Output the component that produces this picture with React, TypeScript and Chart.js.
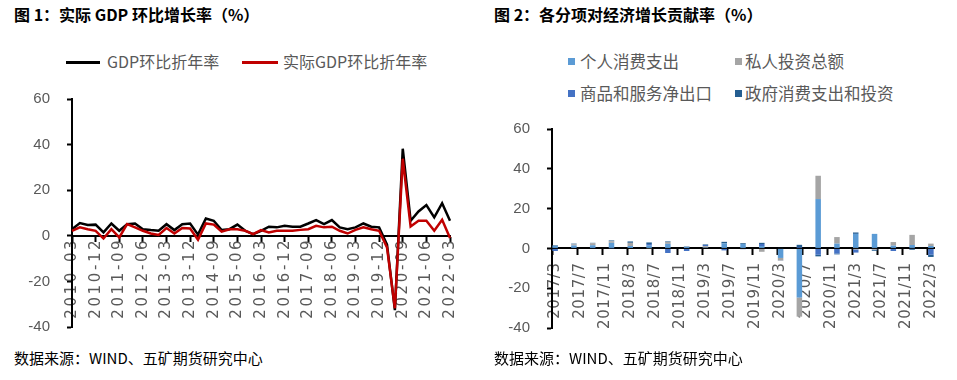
import React, { useEffect, useRef } from 'react';
import { Chart, registerables } from 'chart.js';

Chart.register(...registerables);

// ---------- Chart 1 data ----------
const quarters1 = [
  '2010-03', '2010-06', '2010-09', '2010-12',
  '2011-03', '2011-06', '2011-09', '2011-12',
  '2012-03', '2012-06', '2012-09', '2012-12',
  '2013-03', '2013-06', '2013-09', '2013-12',
  '2014-03', '2014-06', '2014-09', '2014-12',
  '2015-03', '2015-06', '2015-09', '2015-12',
  '2016-03', '2016-06', '2016-09', '2016-12',
  '2017-03', '2017-06', '2017-09', '2017-12',
  '2018-03', '2018-06', '2018-09', '2018-12',
  '2019-03', '2019-06', '2019-09', '2019-12',
  '2020-03', '2020-06', '2020-09', '2020-12',
  '2021-03', '2021-06', '2021-09', '2021-12',
  '2022-03',
];
const gdpNominal = [
  2.9, 5.6, 4.7, 4.9, 1.5, 5.4, 2.2, 5.1, 5.4, 2.9,
  2.5, 2.2, 5.1, 2.5, 5.1, 5.4, 0.5, 7.6, 6.6, 2.5,
  2.9, 4.9, 2.2, 0.7, 2.2, 4.0, 3.7, 4.4, 4.0, 4.0,
  5.4, 6.9, 5.1, 6.9, 3.7, 2.9, 3.7, 5.4, 4.0, 3.7,
  -3.9, -32.6, 38.2, 6.6, 10.7, 13.5, 8.1, 14.3, 6.6,
];
const gdpReal = [
  2.2, 3.7, 2.9, 2.2, -1.2, 2.9, -0.7, 5.1, 3.7, 2.2,
  1.0, 0.4, 3.4, 1.0, 3.4, 3.2, -1.7, 5.4, 4.9, 1.8,
  2.9, 2.9, 2.2, 0.7, 2.5, 1.5, 2.2, 2.2, 2.2, 2.6,
  2.9, 4.4, 3.7, 4.0, 2.2, 1.0, 2.6, 3.7, 2.9, 2.2,
  -5.1, -31.8, 33.8, 4.1, 6.6, 6.6, 2.2, 7.0, -1.0,
];
const series1Names = ['GDP环比折年率', '实际GDP环比折年率'];
const series1Colors = ['#000000', '#C00000'];

// ---------- Chart 2 data ----------
const quarters2 = [
  '2017/3', '2017/6', '2017/9', '2017/12',
  '2018/3', '2018/6', '2018/9', '2018/12',
  '2019/3', '2019/6', '2019/9', '2019/12',
  '2020/3', '2020/6', '2020/9', '2020/12',
  '2021/3', '2021/6', '2021/9', '2021/12',
  '2022/3',
];
const pce = [1.3, 1.5, 1.6, 2.8, 1.2, 1.4, 2.3, 0.9, 0.4, 2.5, 2.2, 1.2, -4.8, -24.7, 24.8, 2.4, 7.3, 7.3, 1.4, 1.7, 1.2];
const investment = [0.1, 0.6, 1.0, 0.8, 1.6, -0.1, 0.9, 0.3, 0.7, -0.3, -0.3, -1.7, -1.3, -9.6, 11.7, 3.3, -0.5, -0.6, 1.8, 5.1, 1.2];
const netExports = [-1.3, 0.1, -0.2, -0.1, 0.0, 0.8, -2.3, -1.3, 0.6, -0.7, -0.1, 1.0, -0.1, 0.6, -3.2, -2.6, -1.6, -0.2, -1.3, -0.2, -3.2];
const government = [0.3, 0.2, 0.2, 0.4, 0.7, 0.8, 0.3, 0.0, 0.3, 0.8, 0.4, 0.6, 0.2, 1.2, -0.8, -0.4, 0.7, -0.4, 0.0, -0.5, -1.1];
const series2Names = ['个人消费支出', '私人投资总额', '商品和服务净出口', '政府消费支出和投资'];
const series2Colors = ['#5B9BD5', '#A5A5A5', '#4472C4', '#255E91'];

const yMin = -40;
const yMax = 60;
const yStep = 20;

const title1 = '图 1：实际 GDP 环比增长率（%）';
const title2 = '图 2：各分项对经济增长贡献率（%）';
const sourceText = '数据来源：WIND、五矿期货研究中心';

// ---------- helpers ----------
const FONT_CJK = '"Noto Sans CJK SC", "Noto Sans", sans-serif';
const FONT_AXIS = '"Liberation Sans", Arial, sans-serif';
const FONT_XLAB = '"DejaVu Sans", "Liberation Sans", sans-serif';
const GRAY = '#595959';

// monthly axis for chart 2 (quarter-end bars on a month-based axis)
const parseYM = (s: string) => s.split('/').map(Number);
const axisMonths: string[] = (() => {
  const [y0, m0] = parseYM(quarters2[0]);
  const [y1, m1] = parseYM(quarters2[quarters2.length - 1]);
  const out: string[] = [];
  let y = y0;
  let m = m0;
  while (y < y1 || (y === y1 && m <= m1)) {
    out.push(`${y}/${m}`);
    m += 1;
    if (m > 12) { m = 1; y += 1; }
  }
  return out;
})();
const toMonthly = (vals: number[]) =>
  axisMonths.map((lab) => {
    const k = quarters2.indexOf(lab);
    return k >= 0 ? vals[k] : null;
  });

const labelSpacing = (px: string) => ({
  id: 'xLabelSpacing',
  beforeDraw(chart: any) {
    const s = chart.scales.x;
    if (s && !s.__patched) {
      const orig = s.drawLabels.bind(s);
      s.drawLabels = (area: any) => {
        const c: any = chart.ctx;
        c.save();
        c.letterSpacing = px;
        orig(area);
        c.restore();
      };
      s.__patched = true;
    }
  },
});

const yAxis = (width: number) => ({
  min: yMin,
  max: yMax,
  afterFit: (s: any) => { s.width = width; s.paddingTop = 0; s.paddingBottom = 0; },
  grid: { drawOnChartArea: false, drawTicks: true, tickLength: 5, tickWidth: 2, tickColor: '#000' },
  border: { color: '#000', width: 2 },
  ticks: { stepSize: yStep, padding: 17, color: GRAY, font: { family: FONT_AXIS, size: 15 } },
});

export default function App() {
  const c1 = useRef<HTMLCanvasElement | null>(null);
  const c2 = useRef<HTMLCanvasElement | null>(null);

  useEffect(() => {
    const chart1 = new Chart(c1.current as HTMLCanvasElement, {
      type: 'line',
      data: {
        labels: quarters1,
        datasets: [
          { label: series1Names[0], data: gdpNominal, borderColor: series1Colors[0], backgroundColor: series1Colors[0], borderWidth: 2.5, pointRadius: 0, tension: 0, order: 2 },
          { label: series1Names[1], data: gdpReal, borderColor: series1Colors[1], backgroundColor: series1Colors[1], borderWidth: 2.5, pointRadius: 0, tension: 0, order: 1 },
        ],
      },
      options: {
        animation: false,
        responsive: false,
        devicePixelRatio: 1,
        layout: { padding: { left: 0, top: 14, right: 28, bottom: 13 } },
        plugins: { legend: { display: false }, tooltip: { enabled: false } },
        scales: {
          x: {
            position: { y: 0 } as any,
            offset: false,
            afterFit: (s: any) => { s.height = 0; s.paddingTop = 0; s.paddingBottom = 0; },
            grid: {
              drawOnChartArea: false, drawTicks: true, tickLength: 5, tickWidth: 2,
              tickColor: (ctx: any) => (ctx.index % 3 === 0 ? '#000' : 'rgba(0,0,0,0)'),
            },
            border: { color: '#000', width: 2 },
            ticks: {
              autoSkip: false, minRotation: 90, maxRotation: 90, padding: -3,
              color: GRAY, font: { family: FONT_XLAB, size: 15 },
              callback: (_v: any, i: number) => (i % 3 === 0 ? quarters1[i] : ''),
            },
          },
          y: yAxis(72) as any,
        },
      },
      plugins: [labelSpacing('2.6px')],
    } as any);

    const data2 = [pce, investment, netExports, government];
    const chart2 = new Chart(c2.current as HTMLCanvasElement, {
      type: 'bar',
      data: {
        labels: axisMonths,
        datasets: data2.map((vals, k) => ({
          label: series2Names[k],
          data: toMonthly(vals),
          backgroundColor: series2Colors[k],
          borderWidth: 0,
          barPercentage: 0.88,
          categoryPercentage: 1,
        })),
      },
      options: {
        animation: false,
        responsive: false,
        devicePixelRatio: 1,
        layout: { padding: { left: 0, top: 19, right: 13.4, bottom: 22 } },
        plugins: { legend: { display: false }, tooltip: { enabled: false } },
        scales: {
          x: {
            stacked: true,
            position: { y: 0 } as any,
            afterFit: (s: any) => { s.height = 0; s.paddingTop = 0; s.paddingBottom = 0; },
            grid: {
              offset: true, drawOnChartArea: false, drawTicks: true, tickLength: 6, tickWidth: 2,
              tickColor: (ctx: any) => (ctx.index % 4 === 0 ? '#000' : 'rgba(0,0,0,0)'),
            },
            border: { color: '#000', width: 2 },
            ticks: {
              autoSkip: false, minRotation: 90, maxRotation: 90, padding: 8,
              color: GRAY, font: { family: FONT_XLAB, size: 15 },
              callback: (_v: any, i: number) => (i % 4 === 0 ? axisMonths[i] : ''),
            },
          },
          y: { ...(yAxis(74) as any), stacked: true },
        },
      },
      plugins: [labelSpacing('0.6px')],
    } as any);

    return () => {
      chart1.destroy();
      chart2.destroy();
    };
  }, []);

  const abs = (s: React.CSSProperties): React.CSSProperties => ({ position: 'absolute', whiteSpace: 'nowrap', ...s });

  return (
    <div style={{ position: 'absolute', left: 0, top: 0, width: 957, height: 380, background: '#fff', fontFamily: FONT_CJK, overflow: 'hidden' }}>
      {/* Chart 1 */}
      <div style={abs({ left: 14, top: 4, fontSize: 16, fontWeight: 700, lineHeight: '20px', color: '#000' })}>{title1}</div>
      <div style={abs({ left: 66, top: 60.5, width: 34, height: 3, background: series1Colors[0] })} />
      <div style={abs({ left: 107, top: 51, fontSize: 16, lineHeight: '20px', color: GRAY })}>{series1Names[0]}</div>
      <div style={abs({ left: 242, top: 60.5, width: 36, height: 3, background: series1Colors[1] })} />
      <div style={abs({ left: 283, top: 51, fontSize: 16, lineHeight: '20px', color: GRAY })}>{series1Names[1]}</div>
      <canvas ref={c1} width={478} height={255} style={{ position: 'absolute', left: 0, top: 85, width: 478, height: 255 }} />
      <div style={abs({ left: 14, top: 348, fontSize: 15, lineHeight: '20px', color: '#000' })}>{sourceText}</div>

      {/* Chart 2 */}
      <div style={abs({ left: 494, top: 4, fontSize: 16, fontWeight: 700, lineHeight: '20px', color: '#000' })}>{title2}</div>
      {series2Names.map((name, k) => {
        const col = k % 2;
        const row = Math.floor(k / 2);
        const cy = row === 0 ? 61 : 93;
        const boxX = col === 0 ? 568 : 735;
        const textX = col === 0 ? 580 : 745;
        return (
          <React.Fragment key={name}>
            <div style={abs({ left: boxX, top: cy - 3.5, width: 7, height: 7, background: series2Colors[k] })} />
            <div style={abs({ left: textX, top: cy - 10, fontSize: 16.5, lineHeight: '20px', color: GRAY })}>{name}</div>
          </React.Fragment>
        );
      })}
      <canvas ref={c2} width={479} height={240} style={{ position: 'absolute', left: 478, top: 110, width: 479, height: 240 }} />
      <div style={abs({ left: 494, top: 348, fontSize: 15, lineHeight: '20px', color: '#000' })}>{sourceText}</div>
    </div>
  );
}
